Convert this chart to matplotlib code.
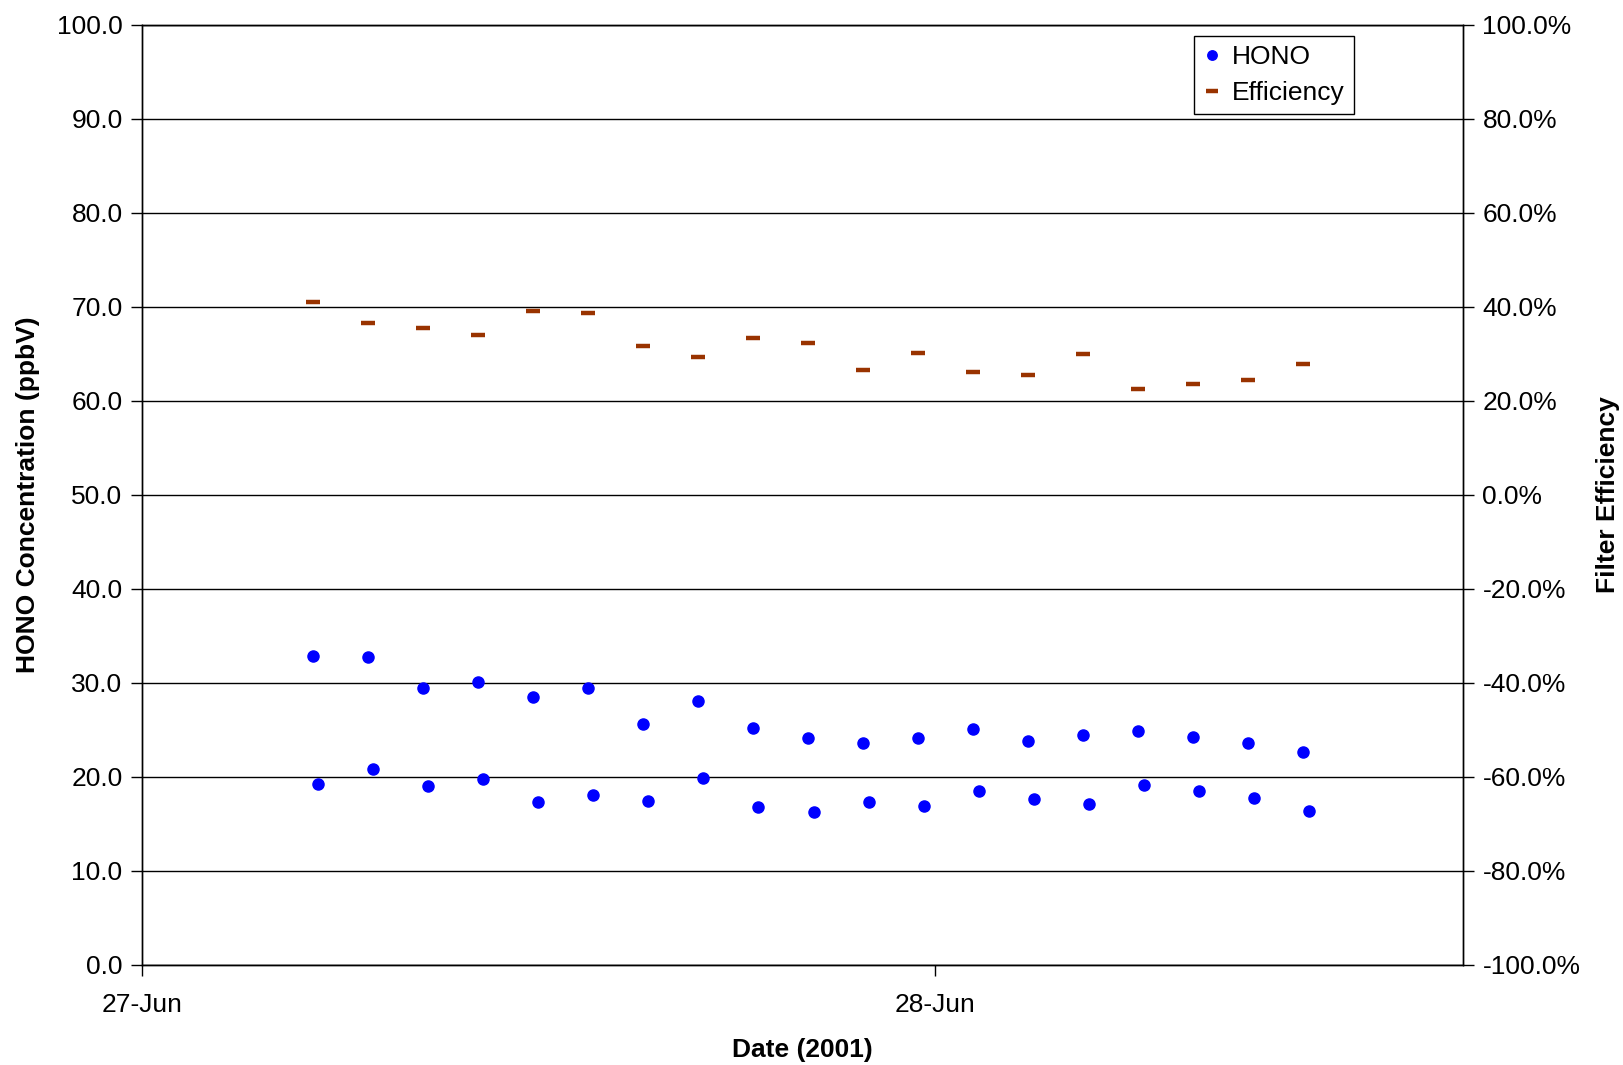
import matplotlib
matplotlib.use("Agg")
import matplotlib.pyplot as plt
import matplotlib.dates as mdates
from matplotlib.ticker import FuncFormatter, MultipleLocator
import numpy as np
import pandas as pd

plt.rcParams['font.family'] = ['Liberation Sans', 'DejaVu Sans']

# Sample times (upper HONO / efficiency) and paired lower HONO samples
times_a = ["2001-06-27 05:10", "2001-06-27 06:50", "2001-06-27 08:30", "2001-06-27 10:10",
           "2001-06-27 11:50", "2001-06-27 13:30", "2001-06-27 15:10", "2001-06-27 16:50",
           "2001-06-27 18:30", "2001-06-27 20:10", "2001-06-27 21:50", "2001-06-27 23:30",
           "2001-06-28 01:10", "2001-06-28 02:50", "2001-06-28 04:30", "2001-06-28 06:10",
           "2001-06-28 07:50", "2001-06-28 09:30", "2001-06-28 11:10"]
times_b = ["2001-06-27 05:20", "2001-06-27 07:00", "2001-06-27 08:40", "2001-06-27 10:20",
           "2001-06-27 12:00", "2001-06-27 13:40", "2001-06-27 15:20", "2001-06-27 17:00",
           "2001-06-27 18:40", "2001-06-27 20:20", "2001-06-27 22:00", "2001-06-27 23:40",
           "2001-06-28 01:20", "2001-06-28 03:00", "2001-06-28 04:40", "2001-06-28 06:20",
           "2001-06-28 08:00", "2001-06-28 09:40", "2001-06-28 11:20"]

hono_a = [32.9, 32.8, 29.5, 30.1, 28.5, 29.5, 25.6, 28.1, 25.2, 24.2, 23.6, 24.2,
          25.1, 23.8, 24.5, 24.9, 24.3, 23.6, 22.7]
hono_b = [19.3, 20.8, 19.0, 19.8, 17.3, 18.1, 17.4, 19.9, 16.8, 16.3, 17.3, 16.9,
          18.5, 17.7, 17.1, 19.2, 18.5, 17.8, 16.4]
efficiency = [41.1, 36.6, 35.5, 34.0, 39.1, 38.7, 31.8, 29.4, 33.4, 32.4, 26.7, 30.2,
              26.2, 25.5, 30.0, 22.6, 23.6, 24.5, 27.8]  # percent

x_ticks = ["2001-06-27", "2001-06-28"]
x_range = ["2001-06-27 00:00", "2001-06-28 16:00"]

ta = mdates.date2num(pd.to_datetime(times_a))
tb = mdates.date2num(pd.to_datetime(times_b))

FS = 19
fig = plt.figure(figsize=(16.24, 10.65), dpi=100)
ax = fig.add_axes([142/1624, 1 - 965/1065, (1463 - 142)/1624, (965 - 25)/1065])
ax2 = ax.twinx()

ax.set_zorder(1)
ax2.set_zorder(2)
ax.patch.set_visible(True)
ax2.patch.set_visible(False)

# gridlines
ax.set_ylim(0, 100)
ax.yaxis.set_major_locator(MultipleLocator(10))
ax.grid(axis='y', color='black', linewidth=1.0)
ax.set_axisbelow(True)

ax.plot(np.concatenate([ta, tb]), hono_a + hono_b, linestyle='none', marker='o',
        markersize=8, color='#0000FF', markeredgecolor='#0000FF', label='HONO', zorder=3)
ax2.plot(ta, np.array(efficiency) / 100.0, linestyle='none', marker='_', markersize=10,
         markeredgewidth=3.2, color='#993300', label='Efficiency', zorder=3)

ax.set_xlim(mdates.date2num(pd.to_datetime(x_range[0])), mdates.date2num(pd.to_datetime(x_range[1])))
ax.set_xticks(mdates.date2num(pd.to_datetime(x_ticks)))
ax.xaxis.set_major_formatter(mdates.DateFormatter('%d-%b'))
ax.yaxis.set_major_formatter(FuncFormatter(lambda v, p: f"{v:.1f}"))

ax2.set_ylim(-1.0, 1.0)
ax2.yaxis.set_major_locator(MultipleLocator(0.2))
ax2.yaxis.set_major_formatter(FuncFormatter(lambda v, p: f"{v*100:.1f}%"))

for a in (ax, ax2):
    a.tick_params(direction='out', length=8, width=1, labelsize=FS, color='black')
    for s in a.spines.values():
        s.set_linewidth(1.0)
        s.set_color('black')
ax.tick_params(axis='x', pad=12)
ax.tick_params(axis='y', pad=6)
ax2.tick_params(axis='y', pad=6)

ax.set_xlabel('Date (2001)', fontsize=FS, fontweight='bold', labelpad=15)
ax.set_ylabel('HONO Concentration (ppbV)', fontsize=FS, fontweight='bold', labelpad=12)
ax2.set_ylabel('Filter Efficiency', fontsize=FS, fontweight='bold', labelpad=11)

h1, l1 = ax.get_legend_handles_labels()
h2, l2 = ax2.get_legend_handles_labels()
leg = ax2.legend(h1 + h2, l1 + l2, loc='upper left', bbox_to_anchor=((1194 - 142)/1321, 1 - (36 - 25)/940),
                 fontsize=FS, frameon=True, fancybox=False, edgecolor='black', framealpha=1,
                 handlelength=0.7, handletextpad=0.4, borderpad=0.35, labelspacing=0.45,
                 markerscale=0.85, borderaxespad=0)
leg.get_frame().set_linewidth(1.0)

fig.savefig('out.png', dpi=100)
